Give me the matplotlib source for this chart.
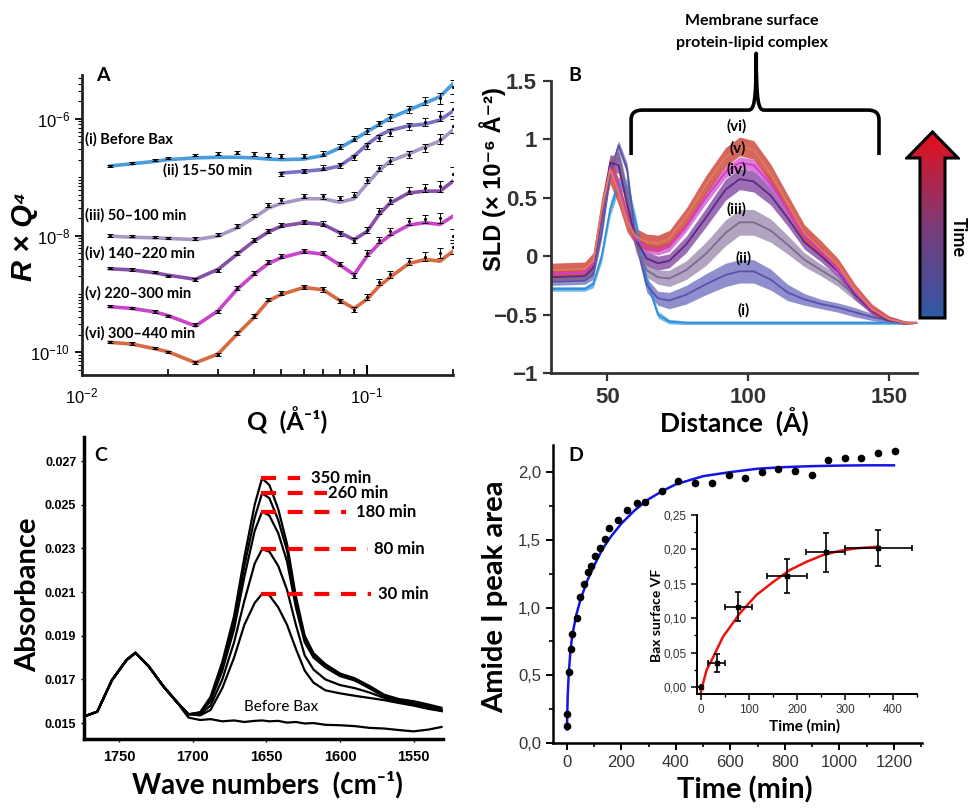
import numpy as np
import matplotlib
matplotlib.use('Agg')
from matplotlib import pyplot as plt
from matplotlib.path import Path
from matplotlib.patches import PathPatch, Polygon
from matplotlib.colors import LinearSegmentedColormap
from matplotlib.ticker import LogLocator, NullFormatter, FuncFormatter, FormatStrFormatter, MultipleLocator

plt.rcParams['font.family'] = ['Liberation Sans', 'DejaVu Sans']
CAL = ['Lato', 'DejaVu Sans']

# ---------------- panel A : reflectivity (log10 of R*Q^4) ----------------
q_grid = [0.0125, 0.015, 0.018, 0.02, 0.025, 0.03, 0.035, 0.04, 0.045, 0.05, 0.06,
          0.07, 0.08, 0.09, 0.1, 0.11, 0.12, 0.14, 0.16, 0.18, 0.2]
nan = np.nan
fit_i = [-6.81, -6.77, -6.73, -6.70, -6.67, -6.66, -6.66, -6.67, -6.69, -6.70, -6.69,
         -6.63, -6.50, -6.36, -6.22, -6.10, -5.99, -5.85, -5.73, -5.62, -5.40]
fit_ii = [nan, nan, nan, nan, nan, nan, nan, nan, nan, -6.93, -6.90,
          -6.87, -6.81, -6.64, -6.44, -6.29, -6.20, -6.12, -6.09, -6.02, -5.87]
fit_iii = [-8.01, -8.03, -8.04, -8.05, -8.07, -8.01, -7.87, -7.70, -7.53, -7.45, -7.37,
           -7.37, -7.43, -7.37, -7.11, -6.89, -6.73, -6.60, -6.48, -6.38, -6.19]
fit_iv = [-8.57, -8.59, -8.64, -8.68, -8.75, -8.58, -8.32, -8.10, -7.94, -7.84, -7.78,
          -7.81, -7.95, -8.07, -7.93, -7.64, -7.45, -7.27, -7.24, -7.24, -7.07]
fit_v = [-9.22, -9.25, -9.31, -9.37, -9.55, -9.29, -8.92, -8.67, -8.48, -8.38, -8.28,
         -8.32, -8.50, -8.67, -8.35, -8.14, -8.00, -7.82, -7.78, -7.81, -7.67]
fit_vi = [-9.83, -9.86, -9.94, -9.99, -10.18, -10.03, -9.69, -9.41, -9.12, -9.01, -8.89,
          -8.93, -9.11, -9.25, -9.09, -8.87, -8.72, -8.48, -8.41, -8.44, -8.27]

dat_i = [-6.81, -6.76, -6.71, -6.67, -6.62, -6.60, -6.58, -6.60, -6.62, -6.63, -6.64,
         -6.60, -6.48, -6.34, -6.21, -6.08, -5.97, -5.84, -5.70, -5.65, -5.45]
dat_ii = [nan, nan, nan, nan, nan, nan, nan, nan, nan, -6.95, -6.89,
          -6.84, -6.80, -6.66, -6.47, -6.33, -6.24, -6.13, -6.06, -5.95, -5.83]
dat_iii = [-8.00, -8.01, -8.02, -8.04, -8.05, -7.99, -7.84, -7.66, -7.48, -7.40, -7.32,
           -7.33, -7.36, -7.30, -7.05, -6.85, -6.72, -6.62, -6.50, -6.35, -6.12]
dat_iv = [-8.56, -8.58, -8.62, -8.69, -8.76, -8.60, -8.30, -8.08, -7.92, -7.82, -7.77,
          -7.80, -7.96, -8.09, -7.90, -7.58, -7.40, -7.23, -7.18, -7.16, -6.95]
dat_v = [-9.21, -9.24, -9.30, -9.38, -9.53, -9.30, -8.90, -8.64, -8.45, -8.35, -8.26,
         -8.30, -8.49, -8.69, -8.30, -8.08, -7.93, -7.76, -7.72, -7.70, -8.00]
dat_vi = [-9.82, -9.85, -9.93, -10.00, -10.17, -10.04, -9.67, -9.38, -9.10, -8.99, -8.88,
          -8.92, -9.12, -9.27, -9.05, -8.80, -8.66, -8.44, -8.36, -8.30, -8.20]
dat_err = [0.02, 0.02, 0.02, 0.02, 0.025, 0.025, 0.03, 0.03, 0.03, 0.035, 0.035,
           0.04, 0.04, 0.045, 0.05, 0.05, 0.06, 0.06, 0.07, 0.09, 0.12]
a_labels = ['(i) Before Bax', '(ii) 15–50 min', '(iii) 50–100 min',
            '(iv) 140–220 min', '(v) 220–300 min', '(vi) 300–440 min']

# ---------------- panel B : SLD profiles ----------------
dist = [30, 42, 45, 48, 51, 54, 57, 60, 64, 68, 72, 78, 85, 92, 97, 102, 108, 114,
        120, 126, 132, 138, 144, 150, 156, 160]
sld_i = [-0.28, -0.28, -0.24, 0.00, 0.40, 0.62, 0.60, 0.30, -0.20, -0.50, -0.56, -0.57, -0.57,
         -0.57, -0.57, -0.57, -0.57, -0.57, -0.57, -0.57, -0.57, -0.57, -0.57, -0.57, -0.57, nan]
sld_ii = [-0.22, -0.21, -0.16, 0.20, 0.70, 0.95, 0.75, 0.15, -0.25, -0.36, -0.38, -0.33, -0.24,
          -0.16, -0.13, -0.13, -0.20, -0.31, -0.37, -0.41, -0.44, -0.48, -0.52, -0.55, -0.57, -0.57]
sld_iii = [-0.20, -0.19, -0.12, 0.30, 0.78, 0.88, 0.55, 0.10, -0.12, -0.18, -0.19, -0.12, 0.02,
           0.20, 0.29, 0.29, 0.22, 0.10, -0.03, -0.12, -0.21, -0.34, -0.46, -0.54, -0.57, -0.57]
sld_iv = [-0.18, -0.17, -0.10, 0.35, 0.80, 0.78, 0.45, 0.15, -0.02, -0.06, -0.04, 0.10, 0.33,
          0.57, 0.66, 0.64, 0.52, 0.33, 0.12, 0.00, -0.13, -0.33, -0.47, -0.55, -0.57, -0.57]
sld_v = [-0.15, -0.14, -0.07, 0.38, 0.76, 0.60, 0.33, 0.15, 0.07, 0.05, 0.08, 0.25, 0.50,
         0.72, 0.80, 0.78, 0.62, 0.40, 0.18, 0.04, -0.12, -0.31, -0.46, -0.54, -0.57, -0.57]
sld_vi = [-0.12, -0.11, -0.04, 0.40, 0.74, 0.55, 0.30, 0.17, 0.12, 0.11, 0.15, 0.34, 0.61,
          0.85, 0.94, 0.91, 0.71, 0.45, 0.20, 0.06, -0.08, -0.29, -0.45, -0.54, -0.57, -0.57]
hw_i = [0.02, 0.02, 0.03, 0.05, 0.06, 0.06, 0.06, 0.06, 0.05, 0.03, 0.02, 0.015, 0.015,
        0.015, 0.015, 0.015, 0.015, 0.015, 0.015, 0.015, 0.015, 0.015, 0.015, 0.015, 0.015, nan]
hw_ii = [0.03, 0.03, 0.04, 0.05, 0.05, 0.04, 0.05, 0.06, 0.06, 0.06, 0.07, 0.08, 0.09,
         0.10, 0.10, 0.10, 0.09, 0.07, 0.05, 0.04, 0.04, 0.04, 0.03, 0.02, 0.01, 0.005]
hw_iii = [0.03, 0.03, 0.04, 0.05, 0.05, 0.05, 0.06, 0.06, 0.06, 0.06, 0.07, 0.08, 0.10,
          0.11, 0.11, 0.11, 0.10, 0.08, 0.06, 0.05, 0.05, 0.04, 0.03, 0.02, 0.01, 0.005]
hw_iv = [0.03, 0.03, 0.04, 0.06, 0.07, 0.07, 0.07, 0.06, 0.06, 0.06, 0.06, 0.07, 0.08,
         0.09, 0.09, 0.09, 0.08, 0.07, 0.06, 0.05, 0.05, 0.04, 0.03, 0.02, 0.01, 0.005]
hw_v = [0.03, 0.03, 0.04, 0.05, 0.06, 0.06, 0.05, 0.05, 0.04, 0.04, 0.04, 0.04, 0.05,
        0.05, 0.05, 0.05, 0.05, 0.05, 0.04, 0.04, 0.04, 0.03, 0.03, 0.02, 0.01, 0.005]
hw_vi = [0.06, 0.06, 0.07, 0.10, 0.12, 0.11, 0.09, 0.07, 0.07, 0.07, 0.07, 0.07, 0.08,
         0.08, 0.08, 0.08, 0.08, 0.08, 0.07, 0.07, 0.06, 0.05, 0.04, 0.03, 0.015, 0.005]
b_labels = ['(i)', '(ii)', '(iii)', '(iv)', '(v)', '(vi)']
b_label_pos = [(98.5, -0.46), (98.5, -0.02), (96, 0.40), (96, 0.74), (96.3, 0.92), (96, 1.11)]

# ---------------- panel C : IR spectra ----------------
wn = [1774, 1765, 1755, 1745, 1739, 1730, 1720, 1710, 1703, 1695, 1688, 1680, 1672, 1665,
      1658, 1653, 1648, 1642, 1636, 1630, 1624, 1618, 1610, 1600, 1590, 1580, 1570, 1560,
      1550, 1540, 1531]
lipid = [0.01530, 0.01552, 0.01697, 0.01790, 0.01822, 0.01760, 0.01668, 0.01590, 0.01540]
abs_350 = lipid + [0.01550, 0.01620, 0.01780, 0.01990, 0.02260, 0.02500, 0.02621, 0.02590,
                   0.02480, 0.02320, 0.02080, 0.01900, 0.01820, 0.01770, 0.01727, 0.01705,
                   0.01670, 0.01630, 0.01610, 0.01600, 0.01585, 0.01570]
abs_260 = lipid + [0.01548, 0.01610, 0.01760, 0.01960, 0.02220, 0.02440, 0.02552, 0.02530,
                   0.02430, 0.02290, 0.02060, 0.01890, 0.01810, 0.01765, 0.01720, 0.01700,
                   0.01660, 0.01625, 0.01605, 0.01590, 0.01580, 0.01560]
abs_180 = lipid + [0.01545, 0.01600, 0.01740, 0.01930, 0.02170, 0.02380, 0.02468, 0.02450,
                   0.02370, 0.02240, 0.02030, 0.01870, 0.01800, 0.01755, 0.01715, 0.01695,
                   0.01660, 0.01620, 0.01600, 0.01590, 0.01575, 0.01555]
abs_80 = lipid + [0.01540, 0.01580, 0.01700, 0.01870, 0.02060, 0.02230, 0.02296, 0.02285,
                  0.02220, 0.02110, 0.01950, 0.01810, 0.01745, 0.01700, 0.01674, 0.01660,
                  0.01640, 0.01615, 0.01595, 0.01585, 0.01570, 0.01560]
abs_30 = lipid + [0.01535, 0.01560, 0.01660, 0.01800, 0.01950, 0.02050, 0.02091, 0.02085,
                  0.02030, 0.01950, 0.01840, 0.01740, 0.01685, 0.01650, 0.01636, 0.01625,
                  0.01615, 0.01605, 0.01592, 0.01580, 0.01565, 0.01555]
abs_before = [0.01530, 0.01552, 0.01695, 0.01788, 0.01820, 0.01758, 0.01666, 0.01588, 0.01525,
              0.01514, 0.01518, 0.01508, 0.01512, 0.01505, 0.01510, 0.01512, 0.01508, 0.01510,
              0.01502, 0.01505, 0.01498, 0.01500, 0.01492, 0.01490, 0.01486, 0.01478, 0.01475,
              0.01468, 0.01462, 0.01470, 0.01482]
c_times = ['350 min', '260 min', '180 min', '80 min', '30 min']
c_dash_end = [1627, 1609, 1596, 1581, 1579]
c_text_x = [1620, 1608, 1589, 1577, 1574]

# ---------------- panel D : amide I area and Bax VF ----------------
t_pts = [1, 1, 7, 13.5, 19.6, 35.5, 47.7, 62.4, 78.3, 88, 104, 121, 138, 155, 186, 219, 256,
         285, 350, 408, 470, 533, 594, 653, 717, 776, 837, 898, 959, 1020, 1081, 1142, 1204]
area = [0.125, 0.214, 0.526, 0.694, 0.802, 0.92, 1.08, 1.171, 1.26, 1.309, 1.382, 1.437, 1.505,
        1.584, 1.646, 1.72, 1.769, 1.779, 1.862, 1.936, 1.917, 1.921, 1.978, 1.953, 2.002, 2.02,
        2.01, 1.976, 2.089, 2.101, 2.101, 2.138, 2.157]
t_fit = [0, 3, 7, 13, 20, 35, 50, 75, 100, 130, 160, 200, 250, 300, 350, 400, 500, 600, 700,
         800, 900, 1000, 1100, 1200]
area_fit = [0.10, 0.35, 0.52, 0.68, 0.80, 0.95, 1.06, 1.20, 1.31, 1.43, 1.52, 1.62, 1.72, 1.80,
            1.86, 1.91, 1.97, 2.00, 2.025, 2.037, 2.044, 2.048, 2.05, 2.05]
vf_t = [0, 32.6, 77.8, 178.5, 259.7, 369.4]
vf = [0.0, 0.0354, 0.1168, 0.1618, 0.1957, 0.2025]
vf_terr = [0, 17.4, 27.8, 41.7, 40.6, 69.4]
vf_err = [0, 0.0128, 0.0208, 0.0245, 0.0279, 0.0262]
vf_fit_t = [0, 12, 26, 46, 81, 116, 151, 185, 220, 255, 290, 324, 369]
vf_fit = [-0.007, 0.025, 0.044, 0.073, 0.107, 0.134, 0.153, 0.170, 0.182, 0.192, 0.198, 0.2016, 0.204]

W, H = 969, 808
fig = plt.figure(figsize=(W / 100, H / 100), dpi=100)


def box(left, top, right, bottom):
    return [left / W, 1 - bottom / H, (right - left) / W, (bottom - top) / H]


def comma(dec):
    return FuncFormatter(lambda v, p: f'{v:.{dec}f}'.replace('.', ','))


def place_labels(ax, xpos, ypos):
    # label centres given in axes fractions
    ax.xaxis.set_label_coords(*xpos)
    ax.yaxis.set_label_coords(*ypos)
    ax.xaxis.label.set_verticalalignment('center')
    ax.yaxis.label.set_verticalalignment('center')


# ---------------- A ----------------
axA = fig.add_axes(box(82, 75, 453, 375))
a_colors = ['#3593dc', '#6a62bd', '#9c8cbf', '#7b3d9f', '#c22fc4', '#d35a2c']
q = np.array(q_grid)
err = np.array(dat_err)
for fit, dat, col in zip([fit_i, fit_ii, fit_iii, fit_iv, fit_v, fit_vi],
                         [dat_i, dat_ii, dat_iii, dat_iv, dat_v, dat_vi], a_colors):
    fit = np.array(fit)
    dat = np.array(dat)
    m = ~np.isnan(fit)
    axA.plot(q[m], 10 ** fit[m], color=col, lw=2.6, alpha=0.9, zorder=2)
    y = 10 ** dat[m]
    lo = y - 10 ** (dat[m] - err[m])
    hi = 10 ** (dat[m] + err[m]) - y
    axA.errorbar(q[m], y, yerr=[lo, hi], fmt='.', color='black', ms=2.5,
                 elinewidth=0.7, capsize=2.5, capthick=0.7, zorder=3)
axA.set_xscale('log')
axA.set_yscale('log')
axA.set_xlim(0.01, 0.2)
axA.set_ylim(10 ** -10.39, 10 ** -5.25)
axA.set_yticks([1e-10, 1e-8, 1e-6])
axA.yaxis.set_minor_locator(LogLocator(base=10, subs=np.arange(1, 10), numticks=40))
axA.yaxis.set_minor_formatter(NullFormatter())
axA.set_xticks([0.01, 0.1])
axA.xaxis.set_minor_locator(LogLocator(base=10, subs=np.arange(2, 10), numticks=20))
axA.xaxis.set_minor_formatter(NullFormatter())
for s in ['top', 'right']:
    axA.spines[s].set_visible(False)
for s in ['left', 'bottom']:
    axA.spines[s].set_linewidth(2)
    axA.spines[s].set_color('#222222')
axA.tick_params(axis='x', which='both', direction='in', labelsize=12, pad=8)
axA.tick_params(axis='x', which='major', length=7, width=1.5)
axA.tick_params(axis='x', which='minor', length=4, width=1.2)
axA.tick_params(axis='y', which='major', direction='out', length=5, width=1.3, labelsize=12)
axA.tick_params(axis='y', which='minor', direction='out', length=3, width=0.8)
axA.set_xlabel('Q  (Å⁻¹)', family=CAL, fontweight='bold', fontsize=18)
axA.set_ylabel('R × Q⁴', fontweight='bold', fontstyle='italic', fontsize=21)
place_labels(axA, (0.552, -0.15), (-0.155, 0.461))
a_lab_pos = [(0.008, 0.786), (0.219, 0.681), (0.008, 0.531), (0.008, 0.406), (0.008, 0.272), (0.008, 0.139)]
for lab, (xx, yy) in zip(a_labels, a_lab_pos):
    axA.text(xx, yy, lab, transform=axA.transAxes, family=CAL, fontweight='bold',
             fontsize=10.5, va='center', ha='left')
axA.text(0.055, 1.0, 'A', transform=axA.transAxes, family=CAL, fontweight='bold',
         fontsize=14, va='center', ha='center')

# ---------------- B ----------------
axB = fig.add_axes(box(551, 81, 917, 373))
b_line = ['#2f8fdc', '#5a52aa', '#7c6a8e', '#5d2a84', '#d03cd0', '#e07a60']
b_band = ['#5aaee8', '#7d7cc6', '#a394b5', '#8a55a8', '#d765d2', '#cf4a3e']
xb = np.array(dist)
for c, hw, lc, bc in zip([sld_i, sld_ii, sld_iii, sld_iv, sld_v, sld_vi],
                         [hw_i, hw_ii, hw_iii, hw_iv, hw_v, hw_vi], b_line, b_band):
    c = np.array(c)
    hw = np.array(hw)
    axB.fill_between(xb, c - hw, c + hw, color=bc, alpha=0.85, lw=0)
    axB.plot(xb, c, color=lc, lw=1.3)
for lab, (xx, yy) in zip(b_labels, b_label_pos):
    axB.text(xx, yy, lab, family=CAL, fontweight='bold', fontsize=11, ha='center', va='center')
axB.set_xlim(30, 160)
axB.set_ylim(-1, 1.5)
axB.set_yticks([-1, -0.5, 0, 0.5, 1, 1.5])
axB.set_yticklabels(['−1', '−0.5', '0', '0.5', '1', '1.5'])
axB.set_xticks([50, 100, 150])
for s in ['top', 'right']:
    axB.spines[s].set_visible(False)
for s in ['left', 'bottom']:
    axB.spines[s].set_linewidth(2)
    axB.spines[s].set_color('#333333')
axB.tick_params(direction='out', length=6, width=1.6, color='#333333', labelsize=16, pad=4)
for t in axB.get_xticklabels() + axB.get_yticklabels():
    t.set_fontweight('bold')
    t.set_color('#333333')
axB.set_xlabel('Distance  (Å)', family=CAL, fontweight='bold', fontsize=19)
axB.set_ylabel('SLD (× 10⁻⁶ Å⁻²)', fontweight='bold', fontsize=17)
place_labels(axB, (0.5, -0.168), (-0.16, 0.665))
axB.text(0.066, 1.02, 'B', transform=axB.transAxes, family=CAL, fontweight='bold',
         fontsize=14, ha='center', va='center')
# brace over the protein-lipid region
brace = Path([(58.45, 0.866), (58.45, 1.166), (58.45, 1.23), (60.0, 1.251), (62.6, 1.251),
              (100.1, 1.251), (102.0, 1.251), (102.9, 1.30), (102.9, 1.737),
              (102.9, 1.30), (103.8, 1.251), (105.7, 1.251), (142.4, 1.251),
              (145.0, 1.251), (146.5, 1.23), (146.5, 1.166), (146.5, 0.866)],
             [Path.MOVETO, Path.LINETO, Path.CURVE4, Path.CURVE4, Path.CURVE4,
              Path.LINETO, Path.CURVE4, Path.CURVE4, Path.CURVE4,
              Path.CURVE4, Path.CURVE4, Path.CURVE4, Path.LINETO,
              Path.CURVE4, Path.CURVE4, Path.CURVE4, Path.LINETO])
axB.add_patch(PathPatch(brace, fill=False, lw=2.6, color='black', clip_on=False,
                        capstyle='butt', joinstyle='round'))
fig.text(752 / W, 1 - 21 / H, 'Membrane surface', family=CAL, fontweight='bold',
         fontsize=11.5, ha='center', va='center')
fig.text(752 / W, 1 - 43 / H, 'protein-lipid complex', family=CAL, fontweight='bold',
         fontsize=11.5, ha='center', va='center')

# time arrow
axT = fig.add_axes(box(905, 130, 960, 322))
axT.set_xlim(0, 55)
axT.set_ylim(0, 192)
axT.axis('off')
arrow = Polygon([(15, 4), (40, 4), (40, 164), (53, 164), (27.5, 190), (2, 164), (15, 164)],
                closed=True, fill=False, ec='black', lw=2.2, joinstyle='miter')
axT.add_patch(arrow)
grad = LinearSegmentedColormap.from_list('time', ['#2b5ba8', '#7d3b7a', '#e60f17'])
img = axT.imshow(np.linspace(0, 1, 256).reshape(-1, 1), cmap=grad, origin='lower',
                 extent=[0, 55, 0, 192], aspect='auto')
img.set_clip_path(arrow)
fig.text(958 / W, 1 - 237 / H, 'Time', family=CAL, fontweight='bold', fontsize=13,
         rotation=270, ha='center', va='center')

# ---------------- C ----------------
axC = fig.add_axes(box(84, 437, 443, 739))
xw = np.array(wn)
for spec in [abs_before, abs_30, abs_80, abs_180, abs_260, abs_350]:
    axC.plot(xw, spec, color='black', lw=1.6)
for spec, lab, xe, xt in zip([abs_350, abs_260, abs_180, abs_80, abs_30], c_times,
                             c_dash_end, c_text_x):
    i = int(np.argmax(spec))
    axC.plot([xw[i] + 1, xe], [spec[i], spec[i]], color='red', lw=3, dashes=(3.6, 2.8))
    axC.text(xt, spec[i], lab, family=CAL, fontweight='bold', fontsize=12, ha='left', va='center')
axC.text(1640, 0.01575, 'Before Bax', family=CAL, fontsize=11, ha='center', va='center')
axC.set_xlim(1774, 1530)
axC.set_ylim(0.01427, 0.0281)
axC.set_yticks([0.015, 0.017, 0.019, 0.021, 0.023, 0.025, 0.027])
axC.yaxis.set_major_formatter(FormatStrFormatter('%.3f'))
axC.set_xticks([1750, 1700, 1650, 1600, 1550])
for s in ['top', 'right']:
    axC.spines[s].set_visible(False)
for s in ['left', 'bottom']:
    axC.spines[s].set_linewidth(2.5)
axC.tick_params(axis='y', direction='out', length=2, width=1, labelsize=9)
axC.tick_params(axis='x', direction='out', length=2, width=1, labelsize=10.5, pad=6)
for t in axC.get_xticklabels() + axC.get_yticklabels():
    t.set_fontweight('bold')
axC.set_xlabel('Wave numbers  (cm⁻¹)', family=CAL, fontweight='bold', fontsize=20)
axC.set_ylabel('Absorbance', family=CAL, fontweight='bold', fontsize=21)
place_labels(axC, (0.51, -0.152), (-0.156, 0.477))
axC.text(0.047, 0.94, 'C', transform=axC.transAxes, family=CAL, fontweight='bold',
         fontsize=14, ha='center', va='center')

# ---------------- D ----------------
axD = fig.add_axes(box(553, 445, 922, 743))
axD.plot(t_fit, area_fit, color='#1414e6', lw=1.8, zorder=2)
axD.plot(t_pts, area, 'o', color='black', ms=4.5, zorder=3)
axD.set_xlim(-51, 1303)
axD.set_ylim(0, 2.2)
axD.xaxis.set_major_locator(MultipleLocator(200))
axD.xaxis.set_minor_locator(MultipleLocator(100))
axD.yaxis.set_major_locator(MultipleLocator(0.5))
axD.yaxis.set_minor_locator(MultipleLocator(0.25))
axD.yaxis.set_major_formatter(comma(1))
for s in ['top', 'right']:
    axD.spines[s].set_visible(False)
for s in ['left', 'bottom']:
    axD.spines[s].set_linewidth(1.8)
axD.tick_params(which='major', direction='out', length=5, width=1.4, labelsize=12,
                labelcolor='#333333')
axD.tick_params(which='minor', direction='out', length=3, width=1.2)
axD.set_xlabel('Time (min)', family=CAL, fontweight='bold', fontsize=21)
axD.set_ylabel('Amide I peak area', family=CAL, fontweight='bold', fontsize=21)
place_labels(axD, (0.52, -0.158), (-0.157, 0.49))
axD.text(0.062, 0.966, 'D', transform=axD.transAxes, family=CAL, fontweight='bold',
         fontsize=14, ha='center', va='center')

# inset
axI = fig.add_axes(box(697, 515, 917, 694))
axI.plot(vf_fit_t, vf_fit, color='#ee1111', lw=1.8, zorder=2)
axI.errorbar(vf_t, vf, xerr=vf_terr, yerr=vf_err, fmt='s', ms=3, color='black',
             elinewidth=1.2, capsize=2.5, capthick=1.2, zorder=3)
axI.set_xlim(-8, 450)
axI.set_ylim(-0.01, 0.25)
axI.xaxis.set_major_locator(MultipleLocator(100))
axI.xaxis.set_minor_locator(MultipleLocator(50))
axI.yaxis.set_major_locator(MultipleLocator(0.05))
axI.yaxis.set_minor_locator(MultipleLocator(0.025))
axI.yaxis.set_major_formatter(comma(2))
for s in ['top', 'right']:
    axI.spines[s].set_visible(False)
for s in ['left', 'bottom']:
    axI.spines[s].set_linewidth(1.4)
axI.tick_params(which='major', direction='out', length=4, width=1.1, labelsize=8.5,
                labelcolor='#333333')
axI.tick_params(which='minor', direction='out', length=2.5, width=1)
axI.set_xlabel('Time (min)', family=CAL, fontweight='bold', fontsize=11)
axI.set_ylabel('Bax surface VF', family=CAL, fontweight='bold', fontsize=10)
place_labels(axI, (0.49, -0.183), (-0.183, 0.441))

fig.savefig('out.png', dpi=100)
